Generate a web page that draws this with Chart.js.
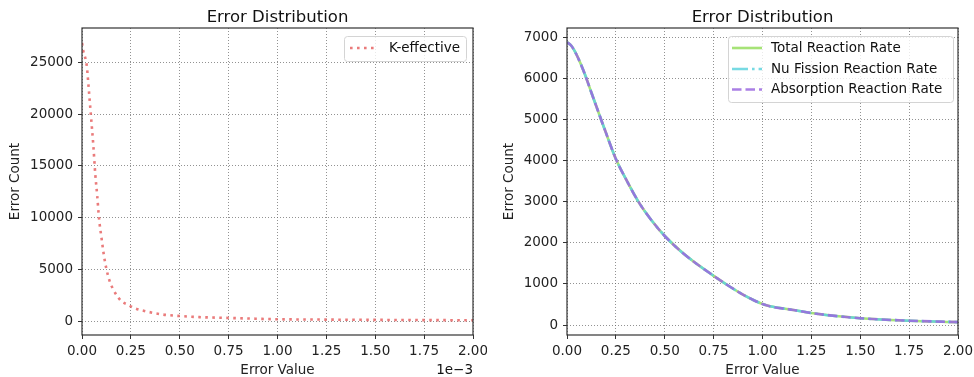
<!DOCTYPE html>
<html lang="en">
<head>
<meta charset="UTF-8" />
<title>Error Distribution</title>
<script src="https://cdn.jsdelivr.net/npm/chart.js"></script>
<style>
  body { margin: 0; background: #fff; }
  .wrap { position: relative; width: 974px; height: 377px; }
  .wrap canvas { position: absolute; top: 0; }
  #kChart { left: 0; }
  #rateChart { left: 487px; }
</style>
</head>
<body>
<div class="wrap">
  <canvas id="kChart" width="487" height="377"></canvas>
  <canvas id="rateChart" width="487" height="377"></canvas>
</div>
<script>
  // left panel: K-effective error distribution (x in absolute units, shown as 1e-3)
  const kErrorValue = [0, 0.000007, 0.000024, 0.000031, 0.000037, 0.000046, 0.000058, 0.000068,
    0.000078, 0.000087, 0.000101, 0.000111, 0.000124, 0.000143, 0.00016, 0.000178, 0.000203,
    0.000234, 0.000266, 0.00034, 0.000416, 0.00049, 0.0006, 0.00075, 0.0009, 0.001, 0.00125,
    0.0015, 0.00175, 0.002];
  const kEffective = [26900, 26100, 24760, 23300, 21900, 19800, 16970, 14180, 12100, 9950, 7870,
    6490, 5115, 3770, 3060, 2480, 1900, 1590, 1270, 885, 625, 500, 380, 300, 220, 175, 140, 112,
    92, 77];
  const kXTicks = [0, 0.00025, 0.0005, 0.00075, 0.001, 0.00125, 0.0015, 0.00175, 0.002];
  const kYTicks = [0, 5000, 10000, 15000, 20000, 25000];

  // right panel: reaction rate error distributions
  const rateErrorValue = [0, 0.02, 0.041, 0.083, 0.126, 0.177, 0.194, 0.25, 0.3, 0.365, 0.43, 0.5,
    0.6, 0.75, 0.834, 0.9, 0.953, 1.0, 1.038, 1.158, 1.26, 1.5, 1.75, 2.0];
  const totalRate = [6870, 6800, 6643, 6198, 5632, 4960, 4740, 4035, 3560, 3000, 2560, 2163,
    1720, 1195, 930, 740, 608, 510, 455, 365, 284, 165, 105, 70];
  const nuFissionRate = [6870, 6800, 6643, 6198, 5632, 4960, 4740, 4035, 3560, 3000, 2560, 2163,
    1720, 1195, 930, 740, 608, 510, 455, 365, 284, 165, 105, 70];
  const absorptionRate = [6870, 6800, 6643, 6198, 5632, 4960, 4740, 4035, 3560, 3000, 2560, 2163,
    1720, 1195, 930, 740, 608, 510, 455, 365, 284, 165, 105, 70];
  const rateXTicks = [0, 0.25, 0.5, 0.75, 1.0, 1.25, 1.5, 1.75, 2.0];
  const rateYTicks = [0, 1000, 2000, 3000, 4000, 5000, 6000, 7000];

  const FONT = '"DejaVu Sans", sans-serif';
  Chart.defaults.font.family = FONT;
  Chart.defaults.font.size = 13.5;
  Chart.defaults.color = '#222';

  const pts = (xs, ys) => xs.map((x, i) => ({ x: x, y: ys[i] }));

  // frame, title, offset text and in-axes legend, matplotlib style
  const frame = {
    id: 'frame',
    afterDraw(chart, args, opts) {
      const { ctx, chartArea: a } = chart;
      ctx.save();
      ctx.strokeStyle = '#333';
      ctx.lineWidth = 1.2;
      ctx.strokeRect(a.left, a.top, a.right - a.left, a.bottom - a.top);

      ctx.fillStyle = '#111';
      ctx.font = '16.5px ' + FONT;
      ctx.textAlign = 'center';
      ctx.textBaseline = 'alphabetic';
      ctx.fillText(opts.title, (a.left + a.right) / 2, 21.5);

      if (opts.offsetText) {
        ctx.font = '13.5px ' + FONT;
        ctx.textAlign = 'right';
        ctx.textBaseline = 'middle';
        ctx.fillText(opts.offsetText, a.right, 370.5);
      }

      const lg = opts.legend;
      ctx.beginPath();
      ctx.roundRect(lg.x + 0.5, lg.y + 0.5, lg.w, lg.h, 3);
      ctx.fillStyle = 'rgba(255,255,255,0.8)';
      ctx.fill();
      ctx.strokeStyle = '#d4d4d4';
      ctx.lineWidth = 1;
      ctx.stroke();
      chart.data.datasets.forEach((ds, i) => {
        const y = lg.rows[i];
        ctx.beginPath();
        ctx.setLineDash(ds.borderDash || []);
        ctx.strokeStyle = ds.borderColor;
        ctx.lineWidth = ds.borderWidth;
        ctx.moveTo(lg.sampleX, y);
        ctx.lineTo(lg.sampleX + lg.sampleW, y);
        ctx.stroke();
        ctx.setLineDash([]);
        ctx.fillStyle = '#111';
        ctx.font = '13.5px ' + FONT;
        ctx.textAlign = 'left';
        ctx.textBaseline = 'middle';
        ctx.fillText(ds.label, lg.textX, y);
      });
      ctx.restore();
    }
  };

  function axes(xTicks, yTicks, xMin, xMax, yMin, yMax, yWidth, yTitlePad, xFmt) {
    const grid = {
      color: 'rgba(100,100,100,0.7)',
      lineWidth: 1,
      drawTicks: true,
      tickLength: 4,
      tickColor: '#333',
      tickBorderDash: [],
      tickWidth: 1
    };
    // in Chart.js v4 the grid line dash lives under border.dash
    const border = { display: false, dash: [1, 2] };
    return {
      x: {
        type: 'linear',
        min: xMin, max: xMax,
        grid: grid,
        border: border,
        afterBuildTicks: s => { s.ticks = xTicks.map(v => ({ value: v })); },
        afterFit: s => { s.height = 42; s.paddingLeft = 0; s.paddingRight = 0; },
        ticks: { autoSkip: false, maxRotation: 0, padding: 4, callback: xFmt },
        title: { display: true, text: 'Error Value', font: { size: 13.5, lineHeight: 1 }, padding: { top: 0, bottom: 0 } }
      },
      y: {
        type: 'linear',
        min: yMin, max: yMax,
        grid: grid,
        border: border,
        afterBuildTicks: s => { s.ticks = yTicks.map(v => ({ value: v })); },
        afterFit: s => { s.width = yWidth; s.paddingTop = 0; s.paddingBottom = 0; },
        ticks: { padding: 5, callback: v => String(v) },
        title: { display: true, text: 'Error Count', font: { size: 13.5, lineHeight: 1 }, padding: { top: yTitlePad, bottom: 0 } }
      }
    };
  }

  new Chart(document.getElementById('kChart'), {
    type: 'line',
    data: {
      datasets: [{
        label: 'K-effective',
        data: pts(kErrorValue, kEffective),
        borderColor: 'rgba(230,100,100,0.85)',
        borderWidth: 2.6,
        borderDash: [2.6, 4.4],
        pointRadius: 0,
        cubicInterpolationMode: 'monotone',
        fill: false
      }]
    },
    options: {
      responsive: false,
      animation: false,
      devicePixelRatio: 1,
      layout: { padding: { top: 28, right: 14, bottom: 0, left: 0 } },
      scales: axes(kXTicks, kYTicks, 0, 0.002, -1350, 28350, 82, 8.5, v => (v * 1000).toFixed(2)),
      plugins: {
        legend: { display: false },
        tooltip: { enabled: false },
        frame: {
          title: 'Error Distribution',
          offsetText: '1e\u22123',
          legend: { x: 344, y: 36, w: 122, h: 25, rows: [48], sampleX: 350, sampleW: 24, textX: 389 }
        }
      }
    },
    plugins: [frame]
  });

  new Chart(document.getElementById('rateChart'), {
    type: 'line',
    data: {
      datasets: [
        {
          label: 'Total Reaction Rate',
          data: pts(rateErrorValue, totalRate),
          borderColor: 'rgba(150,222,95,0.85)',
          borderWidth: 2.6,
          borderDash: [],
          order: 2
        },
        {
          label: 'Nu Fission Reaction Rate',
          data: pts(rateErrorValue, nuFissionRate),
          borderColor: 'rgba(95,212,222,0.85)',
          borderWidth: 2.6,
          borderDash: [16, 4, 2.6, 4],
          order: 1
        },
        {
          label: 'Absorption Reaction Rate',
          data: pts(rateErrorValue, absorptionRate),
          borderColor: 'rgba(155,105,225,0.85)',
          borderWidth: 2.6,
          borderDash: [9.5, 4],
          order: 0
        }
      ].map(d => Object.assign(d, { pointRadius: 0, cubicInterpolationMode: 'monotone', fill: false }))
    },
    options: {
      responsive: false,
      animation: false,
      devicePixelRatio: 1,
      layout: { padding: { top: 28, right: 16, bottom: 0, left: 0 } },
      scales: axes(rateXTicks, rateYTicks, 0, 2, -243, 7219, 80, 15.5, v => v.toFixed(2)),
      plugins: {
        legend: { display: false },
        tooltip: { enabled: false },
        frame: {
          title: 'Error Distribution',
          legend: { x: 241, y: 36, w: 225, h: 66, rows: [48, 69, 89.5], sampleX: 245, sampleW: 30, textX: 284 }
        }
      }
    },
    plugins: [frame]
  });
</script>
</body>
</html>
